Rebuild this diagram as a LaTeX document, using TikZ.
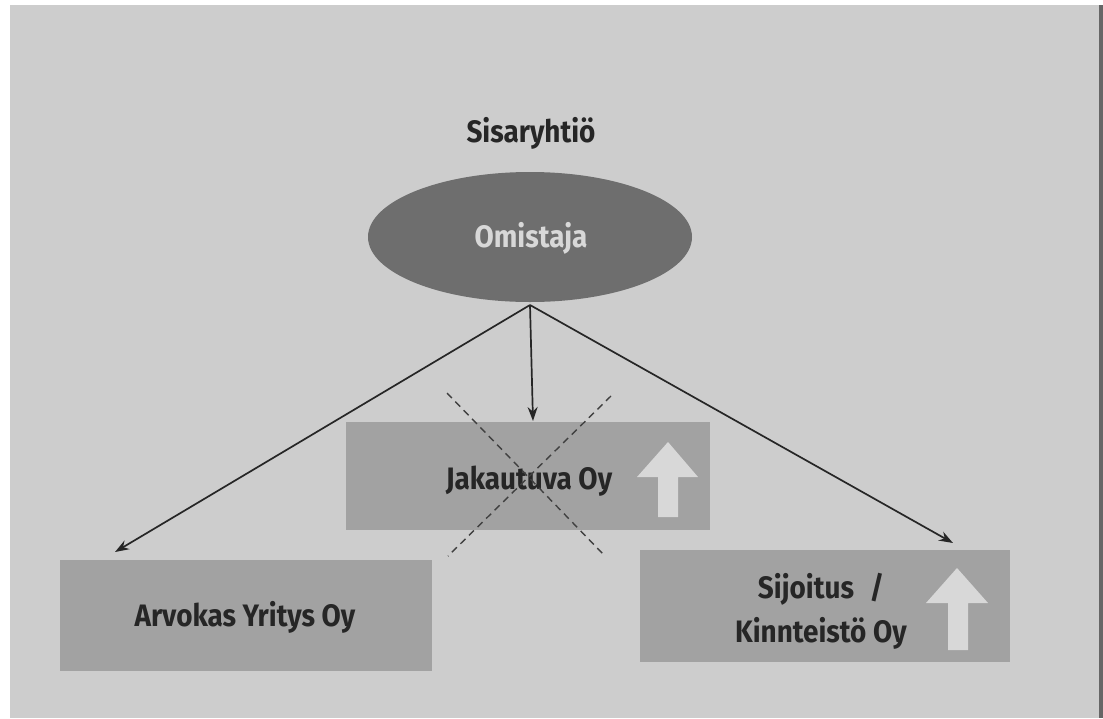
\documentclass[tikz,border=0pt]{standalone}
\usepackage{fontspec}
\setmainfont[FakeStretch=0.9]{Fira Sans}
\usetikzlibrary{shapes.geometric,arrows.meta}
\definecolor{bggray}{HTML}{CDCDCD}
\definecolor{boxgray}{HTML}{A2A2A2}
\definecolor{ellgray}{HTML}{6E6E6E}
\definecolor{txtdark}{HTML}{262626}
\definecolor{arrowwhite}{HTML}{D8D8D8}
\begin{document}
\begin{tikzpicture}[x=1pt,y=-1pt,
  company/.style={fill=boxgray, draw=none, minimum width=#1, minimum height=108pt, inner sep=0pt},
  lbl/.style={font=\bfseries\fontsize{31}{44}\selectfont, text=txtdark, align=center},
  link/.style={draw=black!85, line width=1.7pt, -{Stealth[length=14pt,width=10pt]}},
  cross/.style={draw=black!75, line width=1.4pt, dash pattern=on 7pt off 5pt},
  uparrow/.style={fill=arrowwhite, draw=none}]
\useasboundingbox (0,0) rectangle (1103,718);
\fill[white] (0,0) rectangle (1103,718);
\fill[bggray] (10,5) rectangle (1099,718);
\fill[black!60] (1099,5) rectangle (1103,718);

\node[lbl] (title) at (531,133) {Sisaryhtiö};
\node[ellipse, fill=ellgray, minimum width=324pt, minimum height=130pt, inner sep=0pt] (own) at (530,237) {};
\node[lbl, text=arrowwhite] (ownlbl) at (531,238) {Omistaja};

\node[company=364pt] (jak) at (528,476) {};
\node[company=372pt, minimum height=111pt] (arv) at (246,615) {};
\node[company=370pt, minimum height=112pt] (sij) at (825,606) {};

\node[lbl] (jaklbl) at (529,481) {Jakautuva Oy};
\node[lbl] (arvlbl) at (245,617) {Arvokas Yritys Oy};
\node[lbl] (sijlbl) at (821,611) {Sijoitus\hspace{0.5em}/\\Kinnteistö Oy};

\fill[uparrow] (637,477) -- (668,442) -- (698,477) -- (678,477) -- (678,517) -- (658,517) -- (658,477) -- cycle;
\fill[uparrow] (926,603) -- (957,568) -- (988,603) -- (968,603) -- (968,650) -- (948,650) -- (948,603) -- cycle;

\coordinate (src) at (530,305);
\coordinate (c1a) at (447,393);
\coordinate (c1b) at (605,556);
\coordinate (c2a) at (611,396);
\coordinate (c2b) at (448,556);
\coordinate (tArv) at (115,552);
\coordinate (tJak) at (533,421);
\coordinate (tSij) at (953,543);

\draw[link] (src) -- (tArv);
\draw[link] (src) -- (tJak);
\draw[link] (src) -- (tSij);
\draw[cross] (c1a) -- (c1b);
\draw[cross] (c2a) -- (c2b);
\end{tikzpicture}
\end{document}
